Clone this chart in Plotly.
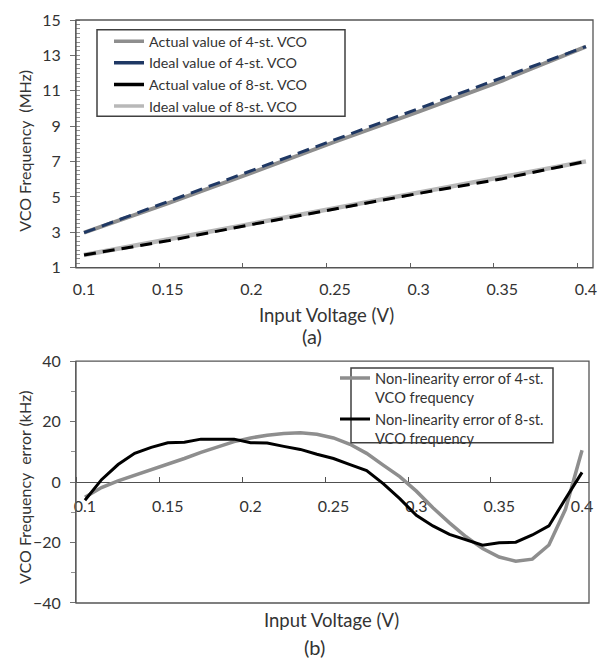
import plotly.graph_objects as go

# ---------------- data ----------------
volts_coarse = [0.10, 0.15, 0.20, 0.25, 0.30, 0.35, 0.40]
actual_4st = [2.98, 4.64, 6.36, 8.12, 9.82, 11.58, 13.50]
actual_8st = [1.72, 2.52, 3.44, 4.33, 5.20, 6.03, 7.01]
ideal_volts = [0.10, 0.40]
ideal_4st = [2.98, 13.50]
ideal_8st = [1.72, 7.01]

volts_fine = [0.10, 0.11, 0.12, 0.13, 0.14, 0.15, 0.16, 0.17, 0.18, 0.19,
              0.20, 0.21, 0.22, 0.23, 0.24, 0.25, 0.26, 0.27, 0.28, 0.29,
              0.30, 0.31, 0.32, 0.33, 0.34, 0.35, 0.36, 0.37, 0.38, 0.39, 0.40]
err_4st = [-5.0, -1.8, 0.4, 2.2, 4.0, 5.8, 7.8, 9.8, 11.6, 13.4,
           14.6, 15.5, 16.1, 16.3, 15.8, 14.6, 12.5, 9.5, 5.6, 1.8,
           -3.0, -8.5, -13.5, -18.1, -22.0, -24.8, -26.2, -25.5, -20.8, -9.0, 10.5]
err_8st = [-6.0, 0.8, 5.8, 9.5, 11.5, 13.0, 13.2, 14.2, 14.2, 14.2,
           13.0, 12.9, 11.8, 10.8, 9.2, 7.8, 5.8, 3.8, -0.5, -5.5,
           -11.0, -14.5, -17.3, -19.2, -20.9, -20.1, -19.9, -17.5, -14.5, -5.5, 3.2]

top_ticks = [1, 3, 5, 7, 9, 11, 13, 15]
bot_ticks = [-40, -20, 0, 20, 40]
x_ticks = [0.1, 0.15, 0.2, 0.25, 0.3, 0.35, 0.4]
x_labels = ["0.1", "0.15", "0.2", "0.25", "0.3", "0.35", "0.4"]

# ---------------- layout helpers ----------------
W, H = 609, 668
ML, MR, MT, MB = 76, 16, 10, 65
PW, PH = W - ML - MR, H - MT - MB


def fx(px):
    return (px - ML) / PW


def fy(py):
    return (H - MB - py) / PH


FONT = "Lato, 'Open Sans', sans-serif"
TXT = "#333333"
GRAY = "#8e8e8e"
NAVY = "#1f3864"
LGRAY = "#b8b8b8"
DASH = "12px,7px"

fig = go.Figure()

# ---- top chart: lines ----
fig.add_trace(go.Scatter(x=volts_coarse, y=actual_4st, mode="lines", showlegend=False,
                         line=dict(color=GRAY, width=4)))
fig.add_trace(go.Scatter(x=ideal_volts, y=ideal_4st, mode="lines", showlegend=False,
                         line=dict(color=NAVY, width=3, dash=DASH)))
fig.add_trace(go.Scatter(x=ideal_volts, y=ideal_8st, mode="lines", showlegend=False,
                         line=dict(color=LGRAY, width=4.5)))
fig.add_trace(go.Scatter(x=volts_coarse, y=actual_8st, mode="lines", showlegend=False,
                         line=dict(color="#000000", width=3, dash=DASH)))
# legend entries (solid keys as in the original)
for nm, col in [("Actual value of 4-st. VCO", GRAY), ("Ideal value of 4-st. VCO", NAVY),
                ("Actual value of 8-st. VCO", "#000000"), ("Ideal value of 8-st. VCO", LGRAY)]:
    fig.add_trace(go.Scatter(x=[None], y=[None], mode="lines", name=nm,
                             line=dict(color=col, width=3.5)))

# ---- bottom chart ----
fig.add_trace(go.Scatter(x=volts_fine, y=err_4st, mode="lines", xaxis="x2", yaxis="y2",
                         name="Non-linearity error of 4-st.<br>VCO frequency", legend="legend2",
                         line=dict(color=GRAY, width=3.5)))
fig.add_trace(go.Scatter(x=volts_fine, y=err_8st, mode="lines", xaxis="x2", yaxis="y2",
                         name="Non-linearity error of 8-st.<br>VCO frequency", legend="legend2",
                         line=dict(color="#000000", width=3)))

top_dom = [fy(262), 1.0]
bot_dom = [0.0, fy(357)]
xr_top = [0.0952, 0.4042]
xr_bot = [0.0946, 0.4042]

tickfont = dict(size=16, color=TXT, family=FONT)
fig.update_layout(
    width=W, height=H,
    margin=dict(l=ML, r=MR, t=MT, b=MB),
    paper_bgcolor="white", plot_bgcolor="white",
    font=dict(family=FONT, color=TXT, size=15),
    xaxis=dict(domain=[0, 1], range=xr_top, tickvals=x_ticks, ticktext=x_labels,
               ticks="", showline=False, showgrid=False, zeroline=False, anchor="y",
               minor=dict(tick0=0.095, dtick=0.05, ticks="inside", ticklen=5, tickcolor="#606060"),
               ticklabelstandoff=10, tickfont=tickfont),
    yaxis=dict(domain=top_dom, range=[1, 15], tickvals=top_ticks, ticks="outside",
               ticklen=5, tickcolor="#707070", showline=True, linecolor="#707070",
               linewidth=1, showgrid=False, zeroline=False, anchor="x",
               minor=dict(dtick=0.25, ticks="inside", ticklen=4, tickcolor="#909090"),
               ticklabelstandoff=6, tickfont=tickfont),
    xaxis2=dict(domain=[0, fx(589)], range=xr_bot, tickvals=x_ticks, ticktext=x_labels,
                ticks="", showline=True, linecolor="#505050", linewidth=1.2,
                showgrid=False, zeroline=False,
                minor=dict(tick0=0.095, dtick=0.05, ticks="inside", ticklen=5, tickcolor="#505050"),
                anchor="free", position=(bot_dom[0] + bot_dom[1]) / 2,
                ticklabelstandoff=10, layer="below traces", tickfont=tickfont),
    yaxis2=dict(domain=bot_dom, range=[-40, 40], tickvals=bot_ticks, ticks="outside",
                ticklen=5, tickcolor="#707070", showline=True, linecolor="#707070",
                linewidth=1, showgrid=False, zeroline=False, anchor="x2",
                minor=dict(dtick=10, ticks="outside", ticklen=4, tickcolor="#909090"),
                ticklabelstandoff=6, tickfont=tickfont),
    legend=dict(x=fx(109), y=fy(15.5), xanchor="left", yanchor="top",
                bgcolor="rgba(0,0,0,0)", borderwidth=0, itemwidth=30,
                font=dict(size=14.3, color=TXT, family=FONT)),
    legend2=dict(x=fx(335), y=fy(358), xanchor="left", yanchor="top",
                 bgcolor="rgba(0,0,0,0)", borderwidth=0, itemwidth=30, valign="top",
                 font=dict(size=14.6, color=TXT, family=FONT)),
    showlegend=True,
)

# plot-area frames and legend boxes
fig.add_shape(type="rect", xref="x domain", yref="y domain", x0=0, x1=1, y0=0, y1=1,
              line=dict(color="#555555", width=1.3), layer="above")
fig.add_shape(type="rect", xref="x2 domain", yref="y2 domain", x0=0, x1=1, y0=0, y1=1,
              line=dict(color="#555555", width=1.3), layer="above")
fig.add_shape(type="rect", xref="paper", yref="paper", x0=fx(97), x1=fx(345), y0=fy(108), y1=fy(20),
              line=dict(color="#404040", width=1.5))
fig.add_shape(type="rect", xref="paper", yref="paper", x0=fx(351), x1=fx(553), y0=fy(440), y1=fy(364),
              line=dict(color="#404040", width=1.5))

ann = [
    ("Input Voltage (V)", 326, 310, 18.5, 0),
    ("(a)", 312, 331, 20, 0),
    ("Input Voltage (V)", 331, 620, 18.5, 0),
    ("(b)", 314, 648, 20, 0),
    ("VCO Frequency  (MHz)", 25, 143, 16, -90),
    ("VCO Frequency  error (kHz)", 25, 485, 16, -90),
]
for text, ax_, ay_, sz, rot in ann:
    fig.add_annotation(text=text, x=fx(ax_), y=fy(ay_), xref="paper", yref="paper",
                       showarrow=False, xanchor="center", yanchor="middle",
                       textangle=rot, font=dict(size=sz, color=TXT, family=FONT))

fig.write_html("out.html")
